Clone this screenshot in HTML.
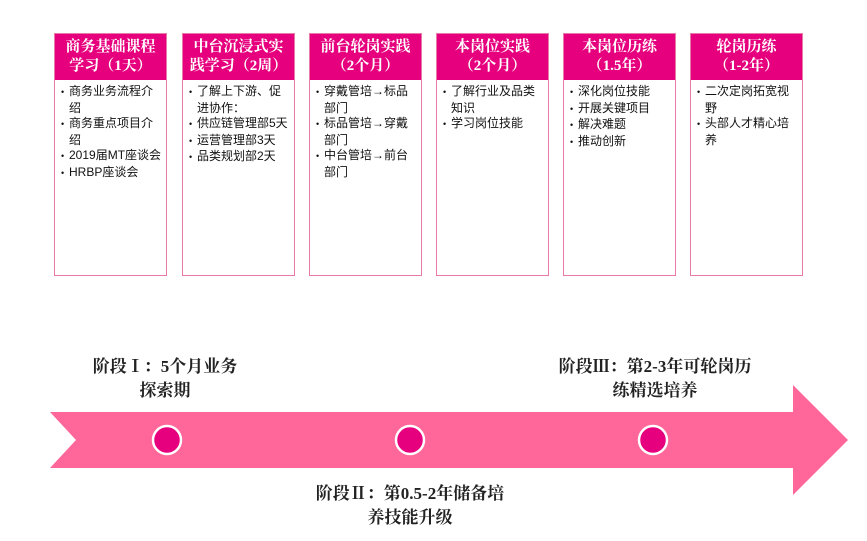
<!DOCTYPE html>
<html><head><meta charset="utf-8"><style>
body{margin:0;width:867px;height:541px;background:#fff;position:relative;overflow:hidden;font-family:"Liberation Sans","Noto Sans CJK SC",sans-serif}
.box{position:absolute;top:33px;width:113px;height:243px;border:1px solid #e87aa8;box-sizing:border-box}
.hd{height:46px;background:#e6007e;color:#fff;font-family:"Liberation Serif","Noto Serif CJK SC",serif;font-weight:bold;font-size:15px;line-height:19px;text-align:center;padding-top:4px;box-sizing:border-box}
.bd{padding:4px 4px 0 6px;font-size:12px;line-height:15.5px;color:#111}
.bd div{padding-left:8px;text-indent:-8px}
.bd div:before{content:"•";display:inline-block;width:8px;text-indent:0;font-size:9px}
.t{position:absolute;font-family:"Liberation Serif","Noto Serif CJK SC",serif;font-weight:bold;font-size:17px;line-height:24px;text-align:center;color:#222}
</style></head><body>
<div class="box" style="left:54px"><div class="hd">商务基础课程<br>学习（1天）</div><div class="bd"><div>商务业务流程介绍</div><div>商务重点项目介绍</div><div>2019届MT座谈会</div><div>HRBP座谈会</div></div></div>
<div class="box" style="left:182px"><div class="hd">中台沉浸式实<br>践学习（2周）</div><div class="bd"><div>了解上下游、促进协作：</div><div>供应链管理部5天</div><div>运营管理部3天</div><div>品类规划部2天</div></div></div>
<div class="box" style="left:309px"><div class="hd">前台轮岗实践<br>（2个月）</div><div class="bd"><div>穿戴管培→标品部门</div><div>标品管培→穿戴部门</div><div>中台管培→前台部门</div></div></div>
<div class="box" style="left:436px"><div class="hd">本岗位实践<br>（2个月）</div><div class="bd"><div>了解行业及品类知识</div><div>学习岗位技能</div></div></div>
<div class="box" style="left:563px"><div class="hd">本岗位历练<br>（1.5年）</div><div class="bd"><div>深化岗位技能</div><div>开展关键项目</div><div>解决难题</div><div>推动创新</div></div></div>
<div class="box" style="left:690px"><div class="hd">轮岗历练<br>（1-2年）</div><div class="bd"><div>二次定岗拓宽视野</div><div>头部人才精心培养</div></div></div>
<svg style="position:absolute;left:0;top:0" width="867" height="541">
<polygon points="50,412 793,412 793,385 848,440 793,495 793,468 50,468 76,440" fill="#ff6699"/>
<circle cx="167" cy="440" r="14" fill="#e6007e" stroke="#fff" stroke-width="2.5"/>
<circle cx="410" cy="440" r="14" fill="#e6007e" stroke="#fff" stroke-width="2.5"/>
<circle cx="653" cy="440" r="14" fill="#e6007e" stroke="#fff" stroke-width="2.5"/>
</svg>
<div class="t" style="left:65px;top:355px;width:200px">阶段Ⅰ：5个月业务<br>探索期</div>
<div class="t" style="left:545px;top:355px;width:220px">阶段Ⅲ：第2-3年可轮岗历<br>练精选培养</div>
<div class="t" style="left:300px;top:482px;width:220px">阶段Ⅱ：第0.5-2年储备培<br>养技能升级</div>
</body></html>
